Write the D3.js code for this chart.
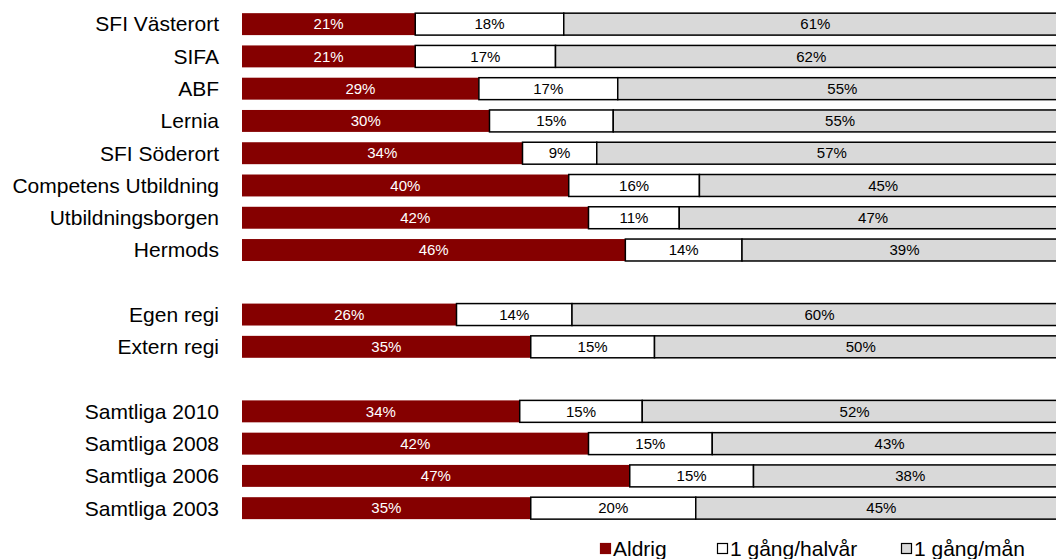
<!DOCTYPE html>
<html>
<head>
<meta charset="utf-8">
<script src="https://cdn.jsdelivr.net/npm/d3@7"></script>
<style>
body { margin: 0; background: #fff; }
svg { display: block; font-family: "Liberation Sans", Arial, sans-serif; }
</style>
</head>
<body>
<svg id="chart" width="1056" height="559"></svg>
<script>
// Rows top to bottom, empty strings are the gaps between groups
var CATEGORIES = ["SFI Västerort","SIFA","ABF","Lernia","SFI Söderort","Competens Utbildning",
	"Utbildningsborgen","Hermods","","Egen regi","Extern regi","","Samtliga 2010",
	"Samtliga 2008","Samtliga 2006","Samtliga 2003"];
var SERIES = ["Aldrig","1 gång/halvår","1 gång/mån"];
var ALDRIG =  [21,21,29,30,34,40,42,46,null,26,35,null,34,42,47,35];
var HALVAR =  [18,17,17,15, 9,16,11,14,null,14,15,null,15,15,15,20];
var MANAD =   [61,62,55,55,57,45,47,39,null,60,50,null,52,43,38,45];
var COLORS = ["#850000","#ffffff","#d9d9d9"];
var TEXTCOL = ["#ffffff","#000000","#000000"];

var svg = d3.select("#chart");
var keys = CATEGORIES.map((c,i) => "r"+i);

var y = d3.scaleBand().domain(keys).range([8,524.3]).paddingInner(0.32).paddingOuter(0.16);
var x = d3.scaleLinear().domain([0,1]).range([242,1067]);

// build stacked rows, each row normalised to its own total
var rows = [];
CATEGORIES.forEach(function(c,i) {
	if (ALDRIG[i] == null) return;
	var vals = [ALDRIG[i],HALVAR[i],MANAD[i]];
	var tot = d3.sum(vals);
	var acc = 0;
	vals.forEach(function(v,s) {
		rows.push({key:keys[i], s:s, v:v, x0:acc/tot, x1:(acc+v)/tot});
		acc += v;
	});
});

// category labels
svg.append("g").selectAll("text").data(CATEGORIES.map((c,i) => [c,keys[i]]).filter(d => d[0]))
	.enter().append("text")
	.attr("x",219)
	.attr("y",d => y(d[1]) + y.bandwidth()/2)
	.attr("dy","0.35em")
	.attr("text-anchor","end")
	.style("font-size","21px")
	.style("fill","#000")
	.text(d => d[0]);

// segments
var seg = svg.append("g");
seg.selectAll("rect").data(rows).enter().append("rect")
	.attr("x",d => x(d.x0))
	.attr("y",d => y(d.key))
	.attr("width",d => x(d.x1)-x(d.x0))
	.attr("height",y.bandwidth())
	.style("fill",d => COLORS[d.s])
	.style("stroke",d => d.s==0 ? "none" : "#000")
	.style("stroke-width",1.5);

seg.selectAll("text").data(rows).enter().append("text")
	.attr("x",d => (x(d.x0)+x(d.x1))/2)
	.attr("y",d => y(d.key) + y.bandwidth()/2)
	.attr("dy","0.35em")
	.attr("text-anchor","middle")
	.style("font-size","15px")
	.style("fill",d => TEXTCOL[d.s])
	.text(d => d.v + "%");

// legend
var LEGX = [600,717,901];
var leg = svg.append("g").selectAll("g").data(SERIES).enter().append("g")
	.attr("transform",(d,i) => "translate("+LEGX[i]+",543)");
leg.append("rect")
	.attr("x",0.5).attr("y",0.5)
	.attr("width",10).attr("height",10)
	.style("fill",(d,i) => COLORS[i])
	.style("stroke",(d,i) => i==0 ? COLORS[0] : "#000")
	.style("stroke-width",1.2);
leg.append("text")
	.attr("x",13).attr("y",13)
	.style("font-size","21px")
	.text(d => d);
</script>
</body>
</html>
